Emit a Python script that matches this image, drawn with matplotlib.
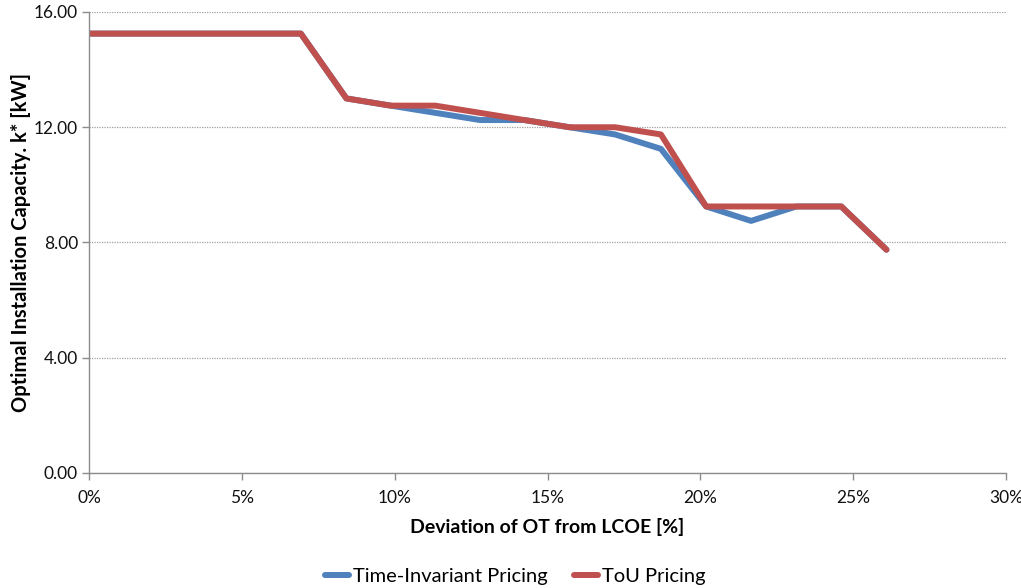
import matplotlib
matplotlib.use('Agg')

import numpy as np
import matplotlib.pyplot as plt
from matplotlib.ticker import FuncFormatter, MultipleLocator

# deviation of OT from LCOE [%]
deviation = [0.0, 6.93, 8.42, 9.87, 11.33, 12.79, 14.24, 15.72, 17.21,
             18.71, 20.19, 21.66, 23.14, 24.61, 26.09]

# optimal installation capacity k* [kW]
k_time_invariant = [15.25, 15.25, 13.0, 12.75, 12.5, 12.25, 12.25, 12.0, 11.75,
                    11.25, 9.25, 8.75, 9.25, 9.25, 7.75]
k_tou = [15.25, 15.25, 13.0, 12.75, 12.75, 12.5, 12.25, 12.0, 12.0,
         11.75, 9.25, 9.25, 9.25, 9.25, 7.75]

plt.rcParams['font.family'] = ['Lato', 'DejaVu Sans']

fig = plt.figure(figsize=(10.21, 5.88), dpi=100)
ax = fig.add_axes([0.0872, 0.1956, 0.8981, 0.7840])

ax.plot(deviation, k_time_invariant, color='#4F81BD', lw=4.3,
        solid_joinstyle='round', solid_capstyle='round', label='Time-Invariant Pricing')
ax.plot(deviation, k_tou, color='#C0504D', lw=4.3,
        solid_joinstyle='round', solid_capstyle='round', label='ToU Pricing')

ax.set_xlim(0, 30)
ax.set_ylim(0, 16)
ax.xaxis.set_major_locator(MultipleLocator(5))
ax.yaxis.set_major_locator(MultipleLocator(4))
ax.xaxis.set_major_formatter(FuncFormatter(lambda v, p: '{:.0f}%'.format(v)))
ax.yaxis.set_major_formatter(FuncFormatter(lambda v, p: '{:.2f}'.format(v)))

ax.grid(axis='y', color='#A0A0A0', ls=(0, (1, 1)), lw=0.9)
ax.set_axisbelow(True)
for s in ['top', 'right']:
    ax.spines[s].set_visible(False)
for s in ['left', 'bottom']:
    ax.spines[s].set_color('#8C8C8C')
    ax.spines[s].set_linewidth(1.0)
ax.tick_params(axis='both', colors='#8C8C8C', length=5, width=1.0,
               labelcolor='#111111', labelsize=12.5)
ax.tick_params(axis='x', pad=7)
ax.tick_params(axis='y', pad=3)

ax.set_xlabel('Deviation of OT from LCOE [%]', fontsize=14, fontweight='bold', labelpad=9)
ax.set_ylabel('Optimal Installation Capacity. k* [kW]', fontsize=14.5, fontweight='bold', labelpad=2)

fig.legend(loc='lower center', bbox_to_anchor=(0.505, -0.026), ncol=2, frameon=False,
           fontsize=14.5, handlelength=1.2, columnspacing=1.3, handletextpad=0.2)

fig.savefig('out.png', dpi=100)
